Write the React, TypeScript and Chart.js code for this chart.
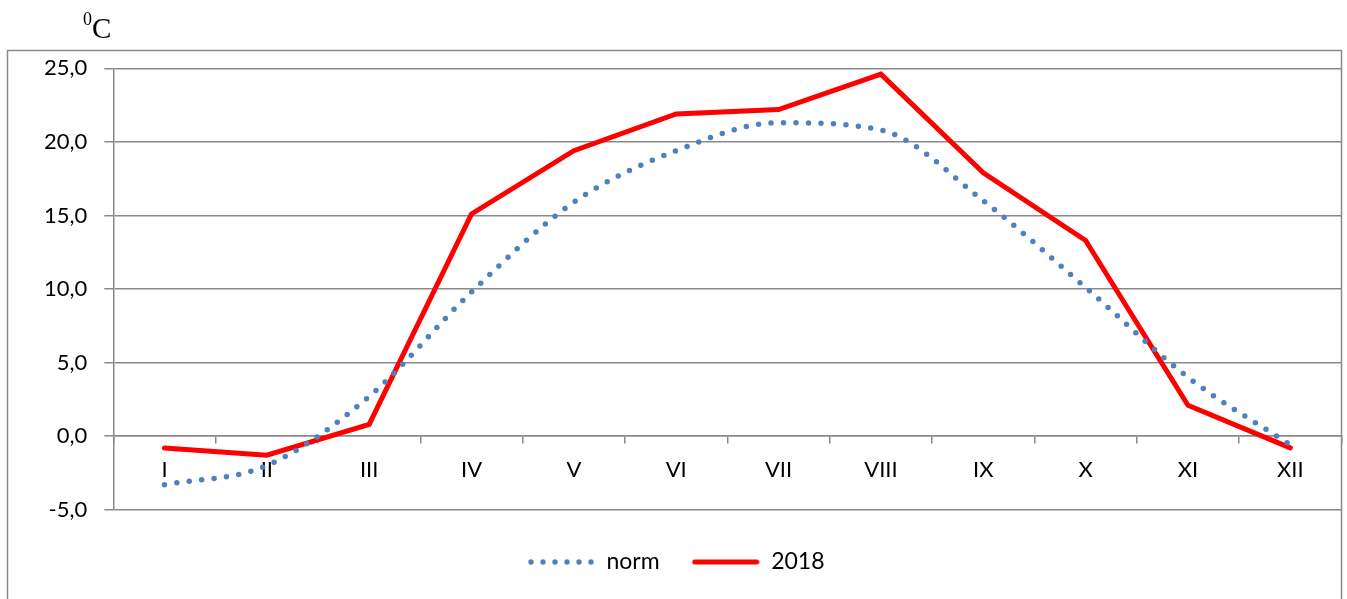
import { useEffect, useRef } from "react";
import { Chart, registerables } from "chart.js";

Chart.register(...registerables);

const months = ["I", "II", "III", "IV", "V", "VI", "VII", "VIII", "IX", "X", "XI", "XII"];
const normValues = [-3.3, -2.0, 2.7, 9.8, 15.9, 19.4, 21.3, 20.8, 16.0, 10.1, 4.0, -0.6];
const values2018 = [-0.8, -1.3, 0.8, 15.1, 19.4, 21.9, 22.2, 24.6, 17.9, 13.3, 2.1, -0.8];
const seriesNames = ["norm", "2018"];
const yMin = -5;
const yMax = 25;
const yStep = 5;
const unitSup = "0";
const unitMain = "C";

const FONT = "Lato";
const GRID = "#8a8a8a";
const BLUE = "#4f81bd";
const RED = "#ff0000";
const SAMPLE_W = 68;

function makeSample(kind: "dots" | "line", color: string) {
  const c = document.createElement("canvas");
  c.width = SAMPLE_W;
  c.height = 8;
  const g = c.getContext("2d")!;
  g.fillStyle = color;
  g.strokeStyle = color;
  if (kind === "dots") {
    for (let i = 0; i < 6; i++) {
      g.beginPath();
      g.arc(4 + i * 12, 4, 2.7, 0, Math.PI * 2);
      g.fill();
    }
  } else {
    g.lineWidth = 5;
    g.lineCap = "round";
    g.beginPath();
    g.moveTo(3, 4);
    g.lineTo(SAMPLE_W - 3, 4);
    g.stroke();
  }
  return c;
}

const framePlugin = {
  id: "frame",
  afterLayout(chart: any) {
    const lg = chart.legend;
    if (lg) {
      lg.top += 8.8;
      lg.bottom += 8.8;
      lg.left += 5;
      lg.right += 5;
    }
  },
  beforeDraw(chart: any) {
    const ctx = chart.ctx;
    ctx.save();
    ctx.strokeStyle = GRID;
    ctx.lineWidth = 1.5;
    ctx.beginPath();
    ctx.moveTo(7.5, 599);
    ctx.lineTo(7.5, 50.5);
    ctx.lineTo(1341.5, 50.5);
    ctx.lineTo(1341.5, 599);
    ctx.stroke();
    ctx.fillStyle = "#000";
    ctx.textBaseline = "alphabetic";
    ctx.textAlign = "left";
    ctx.font = "18px 'Liberation Serif'";
    ctx.fillText(unitSup, 83, 25);
    ctx.font = "29px 'Liberation Serif'";
    ctx.fillText(unitMain, 92, 38);
    ctx.restore();
  },
};

export default function App() {
  const ref = useRef<HTMLCanvasElement | null>(null);
  useEffect(() => {
    if (!ref.current) return;
    const chart = new Chart(ref.current, {
      type: "line",
      data: {
        labels: months,
        datasets: [
          {
            label: seriesNames[0],
            data: normValues,
            borderColor: BLUE,
            backgroundColor: BLUE,
            borderWidth: 5.5,
            borderDash: [0, 12.5],
            borderCapStyle: "round",
            cubicInterpolationMode: "monotone",
            pointRadius: 0,
            pointStyle: makeSample("dots", BLUE) as any,
            fill: false,
          },
          {
            label: seriesNames[1],
            data: values2018,
            borderColor: RED,
            backgroundColor: RED,
            borderWidth: 5,
            borderCapStyle: "round",
            borderJoinStyle: "miter",
            tension: 0,
            pointRadius: 0,
            pointStyle: makeSample("line", RED) as any,
            fill: false,
          },
        ],
      },
      options: {
        responsive: false,
        animation: false,
        devicePixelRatio: 1,
        layout: { padding: { left: 0, right: 5.5, top: 68.3, bottom: 24.3 } },
        plugins: {
          legend: {
            position: "bottom",
            labels: {
              usePointStyle: true,
              pointStyleWidth: SAMPLE_W,
              padding: 32,
              color: "#000",
              font: { family: FONT, size: 23 },
            },
          },
          tooltip: { enabled: false },
        },
        scales: {
          x: {
            type: "category",
            position: { y: 0 } as any,
            offset: true,
            grid: {
              display: true,
              drawOnChartArea: false,
              drawTicks: true,
              tickLength: 7,
              offset: true,
              color: GRID,
              lineWidth: 1.5,
            },
            border: { display: true, color: GRID, width: 1.5 },
            ticks: {
              color: "#000",
              font: { family: FONT, size: 22 },
              padding: 14,
              maxRotation: 0,
              autoSkip: false,
            },
          },
          y: {
            min: yMin,
            max: yMax,
            afterFit(scale: any) {
              scale.width = 113.3;
            },
            grid: {
              color: GRID,
              lineWidth: 1.5,
              drawTicks: true,
              tickLength: 9,
            },
            border: { display: true, color: GRID, width: 1.5 },
            ticks: {
              stepSize: yStep,
              color: "#000",
              padding: 17,
              font: { family: FONT, size: 22 },
              callback: (v: any) => Number(v).toFixed(1).replace(".", ","),
            },
          },
        },
      },
      plugins: [framePlugin],
    });
    return () => chart.destroy();
  }, []);
  return (
    <canvas
      ref={ref}
      width={1347}
      height={599}
      style={{ position: "absolute", left: 0, top: 0, width: 1347, height: 599 }}
    />
  );
}
